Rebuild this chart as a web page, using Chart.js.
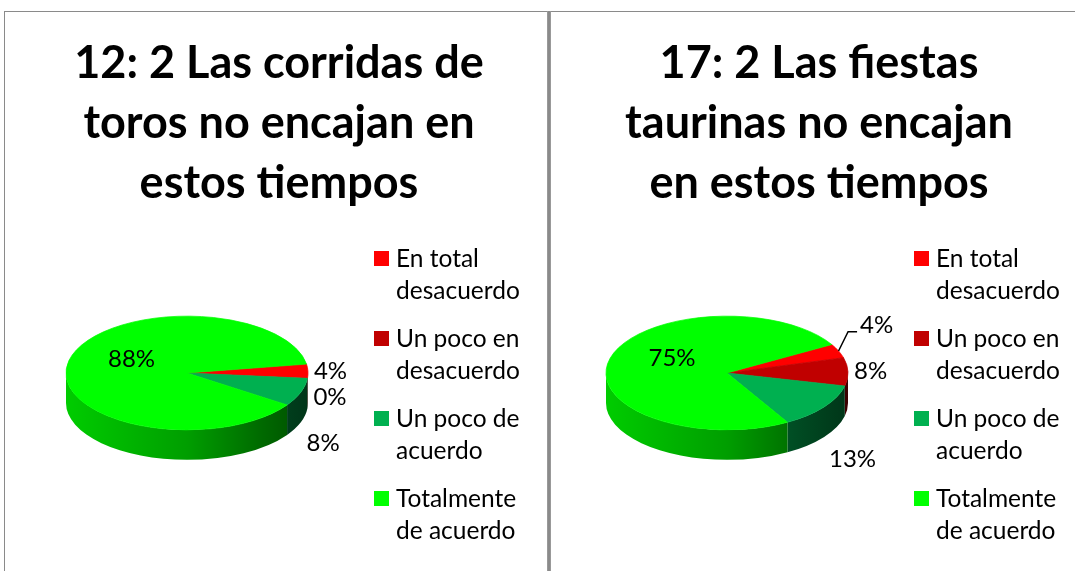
<!DOCTYPE html>
<html>
<head>
<meta charset="utf-8">
<title>Corridas de toros - encuesta</title>
<script src="https://cdn.jsdelivr.net/npm/chart.js@4.4.1/dist/chart.umd.min.js"></script>
<style>
    html, body { margin: 0; padding: 0; background: #fff; }
    body { width: 1075px; height: 571px; position: relative; overflow: hidden; font-family: Lato, sans-serif; }
    .frame { position: absolute; left: 4px; top: 11px; width: 1100px; height: 600px;
             border-left: 1px solid #8a8a8a; border-top: 1px solid #8a8a8a; }
    .divider { position: absolute; left: 547px; top: 11px; width: 4px; height: 570px; z-index: 5;
               background: linear-gradient(to right, #a8a8a8, #8a8a8a 25%, #8a8a8a 75%, #a8a8a8); }
    canvas { position: absolute; top: 13px; }
    #chart12 { left: 6px; }
    #chart17 { left: 546px; }
    .legend { position: absolute; top: 242px; font-size: 24.5px; line-height: 32px; color: #000; z-index: 6; }
    .legend .item { position: relative; padding-left: 22px; margin-bottom: 16px; white-space: nowrap; }
    .legend .sw { position: absolute; left: 0; top: 9px; width: 15px; height: 15px; }
</style>
</head>
<body>
<div class="frame"></div>
<canvas id="chart12" width="546" height="558"></canvas>
<canvas id="chart17" width="546" height="558"></canvas>
<div class="divider"></div>
<div class="legend" id="legend12" style="left:374px"></div>
<div class="legend" id="legend17" style="left:914px"></div>

<script>
// answer categories (legend text, already broken in two lines like the original)
var categories = [
    ['En total', 'desacuerdo'],
    ['Un poco en', 'desacuerdo'],
    ['Un poco de', 'acuerdo'],
    ['Totalmente', 'de acuerdo']
];

// percentages
var toros12Values = [4, 0, 8, 88];
var fiestas17Values = [4, 8, 13, 75];

var toros12Title = ['12: 2 Las corridas de', 'toros no encajan en', 'estos tiempos'];
var fiestas17Title = ['17: 2 Las fiestas', 'taurinas no encajan', 'en estos tiempos'];

var sliceColors = ['#ff0000', '#c00000', '#00b050', '#00ff00'];

function shade(hex, f) {
    var n = parseInt(hex.slice(1), 16);
    var r = Math.round(((n >> 16) & 255) * f);
    var g = Math.round(((n >> 8) & 255) * f);
    var b = Math.round((n & 255) * f);
    return 'rgb(' + r + ',' + g + ',' + b + ')';
}

// percent labels, Excel "best fit" style: big slice inside, the rest outside
function drawPercentLabels(chart, opts) {
    var ctx = chart.ctx;
    var arcs = chart.getDatasetMeta(0).data;
    var values = chart.data.datasets[0].data;
    var cx = arcs[0].x, cy = arcs[0].y, r = arcs[0].outerRadius, ry = r * opts.tilt;
    var outside = [];

    ctx.save();
    ctx.font = '24px Lato';
    ctx.fillStyle = '#000';
    ctx.strokeStyle = '#000';
    ctx.textBaseline = 'middle';

    arcs.forEach(function(arc, i) {
        var mid = (arc.startAngle + arc.endAngle) / 2;
        var c = Math.cos(mid), s = Math.sin(mid);
        var text = values[i] + '%';
        if (values[i] >= 50) {
            ctx.textAlign = 'center';
            ctx.fillText(text, cx + 0.47 * r * c, cy + 0.47 * ry * s - 8);
        } else {
            outside.push({
                text: text, value: values[i], s: s,
                x: cx + (r + 6) * c,
                y: cy + (ry + 4) * s + (s > 0.25 ? opts.depth + 20 : 0),
                rimX: cx + r * c, rimY: cy + ry * s, pushed: false
            });
        }
    });

    // keep the label nearest the horizontal where it is, push the others away
    var gap = 26, anchor = 0, i;
    outside.forEach(function(l, j) {
        if (Math.abs(l.s) < Math.abs(outside[anchor].s)) anchor = j;
    });
    for (i = anchor + 1; i < outside.length; i++) {
        if (outside[i].y < outside[i - 1].y + gap) {
            outside[i].y = outside[i - 1].y + gap;
            outside[i].pushed = true;
        }
    }
    for (i = anchor - 1; i >= 0; i--) {
        if (outside[i].y > outside[i + 1].y - gap) {
            outside[i].y = outside[i + 1].y - gap - 20;
            outside[i].x += 16;
            outside[i].pushed = true;
        }
    }

    ctx.textAlign = 'left';
    outside.forEach(function(l) {
        if (l.pushed && l.value > 0) {
            ctx.lineWidth = 1.5;
            ctx.beginPath();
            ctx.moveTo(l.rimX, l.rimY);
            ctx.lineTo(l.x - 12, l.y + 6);
            ctx.lineTo(l.x - 3, l.y + 6);
            ctx.stroke();
        }
        ctx.fillText(l.text, l.x, l.y);
    });
    ctx.restore();
}

// fake 3D: draw the front wall of each slice, then squash the top face
var pie3d = {
    id: 'pie3d',
    afterLayout: function(chart, args, opts) {
        // the pie only uses the left part of the panel, the legend sits on the right
        var area = chart.chartArea;
        area.right = area.left + opts.areaWidth;
        area.width = opts.areaWidth;
    },
    beforeDatasetsDraw: function(chart, args, opts) {
        var ctx = chart.ctx;
        var arcs = chart.getDatasetMeta(0).data;
        var colors = chart.data.datasets[0].backgroundColor;
        var cx = arcs[0].x, cy = arcs[0].y, r = arcs[0].outerRadius, ry = r * opts.tilt;

        arcs.forEach(function(arc, i) {
            [-2, 0, 2].forEach(function(k) {
                var a = Math.max(arc.startAngle, k * Math.PI);
                var b = Math.min(arc.endAngle, (k + 1) * Math.PI);
                if (b <= a) return;
                var grad = ctx.createLinearGradient(cx - r, 0, cx + r, 0);
                grad.addColorStop(0, shade(colors[i], 0.8));
                grad.addColorStop(0.5, shade(colors[i], 0.62));
                grad.addColorStop(0.8, shade(colors[i], 0.42));
                grad.addColorStop(1, shade(colors[i], 0.3));
                ctx.beginPath();
                ctx.ellipse(cx, cy, r, ry, 0, a, b);
                ctx.ellipse(cx, cy + opts.depth, r, ry, 0, b, a, true);
                ctx.closePath();
                ctx.fillStyle = grad;
                ctx.fill();
            });
        });

        ctx.save();
        ctx.translate(cx, cy);
        ctx.scale(1, opts.tilt);
        ctx.translate(-cx, -cy);
    },
    afterDatasetsDraw: function(chart, args, opts) {
        chart.ctx.restore();
        drawPercentLabels(chart, opts);
    }
};

function renderPie(canvasId, title, values, rotation) {
    return new Chart(document.getElementById(canvasId), {
        type: 'pie',
        data: {
            labels: categories,
            datasets: [{
                data: values,
                backgroundColor: sliceColors,
                borderColor: sliceColors,
                borderWidth: function(c) { return c.raw > 0 ? 1 : 0; },
                radius: 121,
                rotation: rotation,
                hoverOffset: 0
            }]
        },
        options: {
            responsive: false,
            animation: false,
            events: [],
            layout: {
                padding: { left: 0, right: 0, top: 0, bottom: 38 }
            },
            plugins: {
                legend: { display: false },
                tooltip: { enabled: false },
                title: {
                    display: true,
                    text: title,
                    color: '#000',
                    font: { family: 'Lato', weight: 'bold', size: 45, lineHeight: '60px' },
                    padding: { top: 20, bottom: 0 }
                },
                pie3d: { tilt: 0.47, depth: 30, areaWidth: 362 }
            }
        },
        plugins: [pie3d]
    });
}

function renderLegend(id) {
    var box = document.getElementById(id);
    categories.forEach(function(lines, i) {
        var item = document.createElement('div');
        item.className = 'item';
        var sw = document.createElement('span');
        sw.className = 'sw';
        sw.style.background = sliceColors[i];
        item.appendChild(sw);
        lines.forEach(function(line, j) {
            if (j > 0) item.appendChild(document.createElement('br'));
            item.appendChild(document.createTextNode(line));
        });
        box.appendChild(item);
    });
}

renderPie('chart12', toros12Title, toros12Values, 81);
renderPie('chart17', fiestas17Title, fiestas17Values, 60);
renderLegend('legend12');
renderLegend('legend17');
</script>
</body>
</html>
